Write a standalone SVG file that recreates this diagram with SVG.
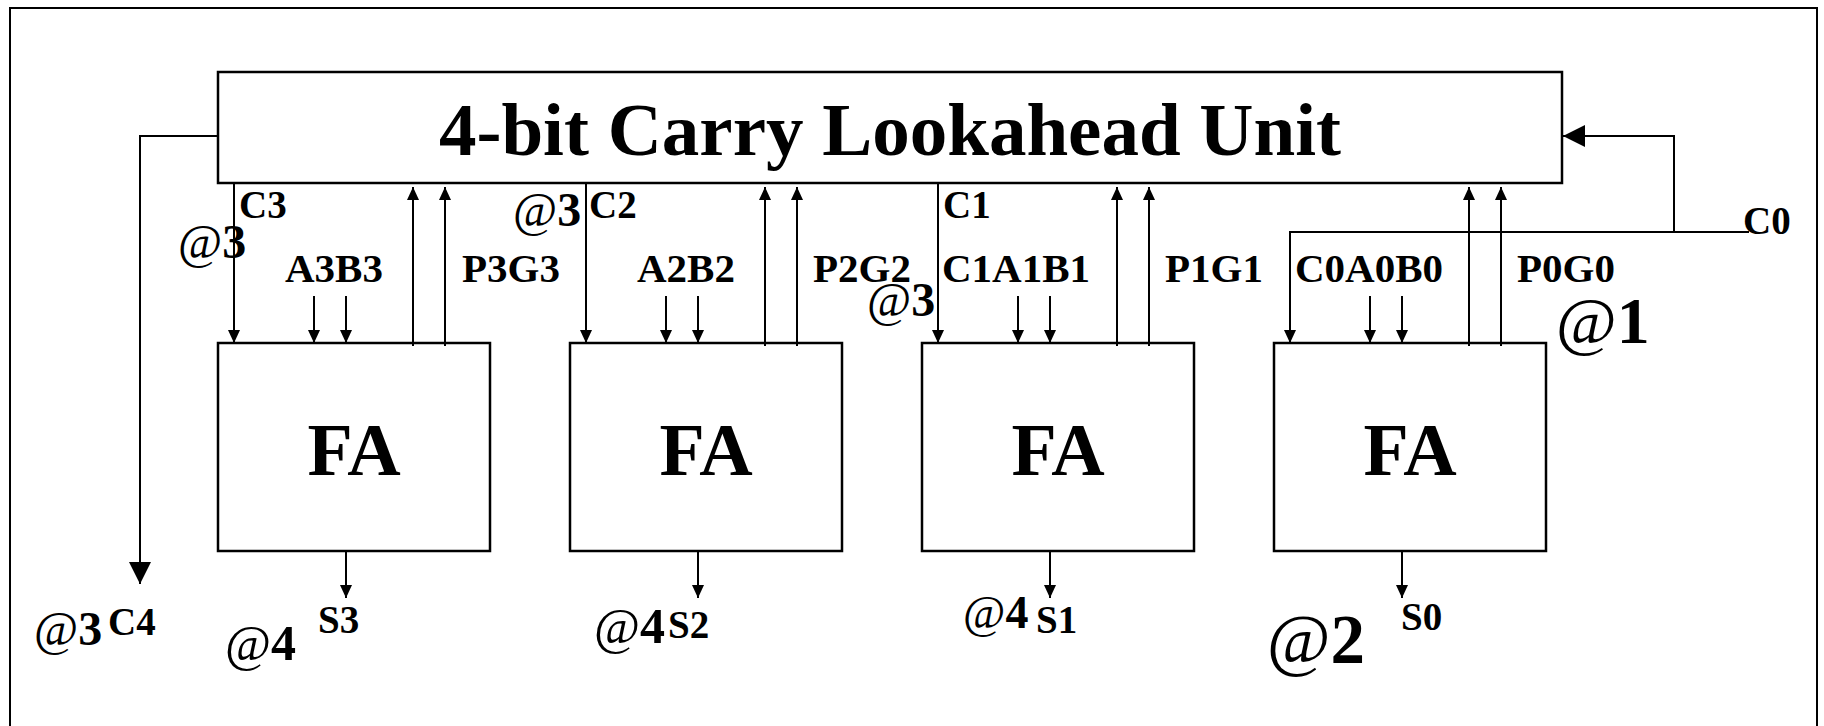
<svg xmlns="http://www.w3.org/2000/svg" width="1824" height="726" viewBox="0 0 1824 726">
<style>
.box{fill:#fff;stroke:#000;stroke-width:2.5}
.ln{fill:none;stroke:#000;stroke-width:2}
.sm{marker-end:url(#arr)}
.lg{marker-end:url(#arrL)}
text{font-family:"Liberation Serif","Times New Roman",serif;font-weight:bold;fill:#000}
.r{font-weight:normal}
.title{font-size:75px}
.fa{font-size:74px}
.lbl{font-size:41px}
.cl{font-size:39px}
.at{font-size:48px}
</style>
<defs>
<marker id="arr" viewBox="0 0 13 12" refX="13" refY="6" markerWidth="13" markerHeight="12" markerUnits="userSpaceOnUse" orient="auto">
<path d="M0,0 L13,6 L0,12 z" fill="#000"/>
</marker>
<marker id="arrL" viewBox="0 0 22 22" refX="22" refY="11" markerWidth="22" markerHeight="22" markerUnits="userSpaceOnUse" orient="auto">
<path d="M0,0 L22,11 L0,22 z" fill="#000"/>
</marker>
</defs>
<rect x="10" y="8" width="1807" height="740" fill="#fff" stroke="#000" stroke-width="2"/>

<g id="clu">
<rect class="box" x="218" y="72" width="1344" height="111"/>
<text class="title" x="890" y="155" text-anchor="middle">4-bit Carry Lookahead Unit</text>
</g>
<g id="fa3">
<rect class="box" x="218" y="343" width="272" height="208"/>
<text class="fa" x="354" y="475" text-anchor="middle">FA</text>
</g>
<g id="fa2">
<rect class="box" x="570" y="343" width="272" height="208"/>
<text class="fa" x="706" y="475" text-anchor="middle">FA</text>
</g>
<g id="fa1">
<rect class="box" x="922" y="343" width="272" height="208"/>
<text class="fa" x="1058" y="475" text-anchor="middle">FA</text>
</g>
<g id="fa0">
<rect class="box" x="1274" y="343" width="272" height="208"/>
<text class="fa" x="1410" y="475" text-anchor="middle">FA</text>
</g>

<g id="connectors">
<path class="ln lg" d="M218,136 H140 V584"/>
<path class="ln sm" d="M234,183 V343"/>
<path class="ln sm" d="M586,183 V343"/>
<path class="ln sm" d="M938,183 V343"/>
<path class="ln sm" d="M1749,232 H1290 V343"/>
<path class="ln lg" d="M1674,232 V136 H1563"/>
<path class="ln sm" d="M314,296 V343"/>
<path class="ln sm" d="M346,296 V343"/>
<path class="ln sm" d="M666,296 V343"/>
<path class="ln sm" d="M698,296 V343"/>
<path class="ln sm" d="M1018,296 V343"/>
<path class="ln sm" d="M1050,296 V343"/>
<path class="ln sm" d="M1370,296 V343"/>
<path class="ln sm" d="M1402,296 V343"/>
<path class="ln sm" d="M413,346 V187"/>
<path class="ln sm" d="M445,346 V187"/>
<path class="ln sm" d="M765,346 V187"/>
<path class="ln sm" d="M797,346 V187"/>
<path class="ln sm" d="M1117,346 V187"/>
<path class="ln sm" d="M1149,346 V187"/>
<path class="ln sm" d="M1469,346 V187"/>
<path class="ln sm" d="M1501,346 V187"/>
<path class="ln sm" d="M346,551 V598"/>
<path class="ln sm" d="M698,551 V598"/>
<path class="ln sm" d="M1050,551 V598"/>
<path class="ln sm" d="M1402,551 V598"/>
</g>

<g id="labels">
<text class="cl" x="239" y="218">C3</text>
<text class="at" x="178" y="258"><tspan class="r">@</tspan>3</text>
<text class="lbl" x="285" y="282">A3B3</text>
<text class="lbl" x="462" y="282">P3G3</text>
<text class="at" x="513" y="226"><tspan class="r">@</tspan>3</text>
<text class="cl" x="589" y="218">C2</text>
<text class="lbl" x="637" y="282">A2B2</text>
<text class="lbl" x="813" y="282">P2G2</text>
<text class="at" x="867" y="316"><tspan class="r">@</tspan>3</text>
<text class="cl" x="943" y="218">C1</text>
<text class="lbl" x="942" y="282">C1A1B1</text>
<text class="lbl" x="1165" y="282">P1G1</text>
<text class="lbl" x="1295" y="282">C0A0B0</text>
<text class="lbl" x="1517" y="282">P0G0</text>
<text x="1556" y="343" font-size="66"><tspan class="r">@</tspan>1</text>
<text class="cl" x="1743" y="234">C0</text>
<text class="at" x="34" y="645"><tspan class="r">@</tspan>3</text>
<text class="cl" x="108" y="635">C4</text>
<text x="225" y="660" font-size="50"><tspan class="r">@</tspan>4</text>
<text class="cl" x="318" y="633">S3</text>
<text x="594" y="643" font-size="50"><tspan class="r">@</tspan>4</text>
<text class="cl" x="668" y="638">S2</text>
<text x="963" y="628" font-size="46"><tspan class="r">@</tspan>4</text>
<text class="cl" x="1036" y="633">S1</text>
<text x="1267" y="663" font-size="69"><tspan class="r">@</tspan>2</text>
<text class="cl" x="1401" y="630">S0</text>
</g>
</svg>
